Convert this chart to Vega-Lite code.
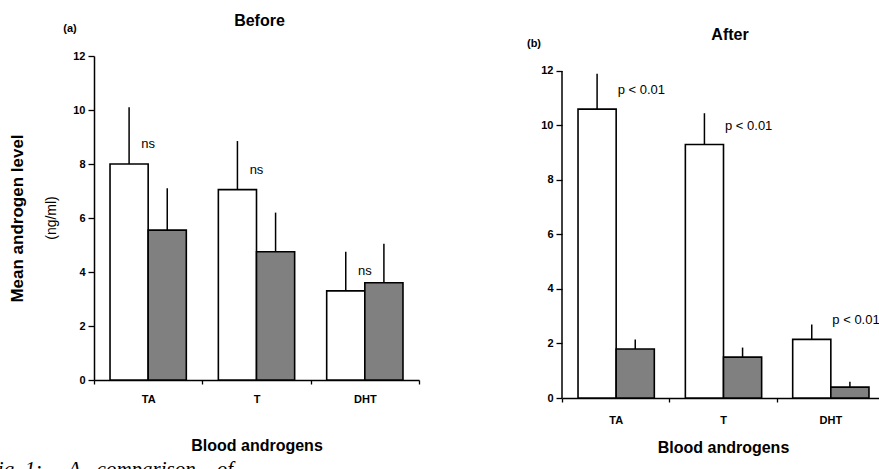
{
  "$schema": "https://vega.github.io/schema/vega-lite/v6.json",
  "background": "white",
  "padding": {"left": -15, "top": 13, "right": 0, "bottom": 0},
  "config": {
    "font": "Liberation Sans",
    "view": {"stroke": null},
    "axis": {
      "domainColor": "black", "tickColor": "black", "labelColor": "black", "titleColor": "black",
      "grid": false, "labelFont": "Liberation Sans", "titleFont": "Liberation Sans",
      "domainWidth": 1.5, "tickWidth": 1.3, "labelFontWeight": "bold", "labelFontSize": 11,
      "titleFontSize": 16, "titleFontWeight": "bold"
    },
    "title": {"font": "Liberation Sans", "fontSize": 16, "fontWeight": "bold", "color": "black"}
  },
  "datasets": {
    "bars": [
      {"panel": "a", "androgen": "TA", "series": "Open", "mean": 8.0, "upper": 10.1, "sig": "ns"},
      {"panel": "a", "androgen": "TA", "series": "Hatched", "mean": 5.55, "upper": 7.1, "sig": ""},
      {"panel": "a", "androgen": "T", "series": "Open", "mean": 7.05, "upper": 8.85, "sig": "ns"},
      {"panel": "a", "androgen": "T", "series": "Hatched", "mean": 4.75, "upper": 6.2, "sig": ""},
      {"panel": "a", "androgen": "DHT", "series": "Open", "mean": 3.3, "upper": 4.75, "sig": "ns"},
      {"panel": "a", "androgen": "DHT", "series": "Hatched", "mean": 3.6, "upper": 5.05, "sig": ""},
      {"panel": "b", "androgen": "TA", "series": "Open", "mean": 10.6, "upper": 11.9, "sig": "p < 0.01"},
      {"panel": "b", "androgen": "TA", "series": "Hatched", "mean": 1.8, "upper": 2.15, "sig": ""},
      {"panel": "b", "androgen": "T", "series": "Open", "mean": 9.3, "upper": 10.45, "sig": "p < 0.01"},
      {"panel": "b", "androgen": "T", "series": "Hatched", "mean": 1.5, "upper": 1.85, "sig": ""},
      {"panel": "b", "androgen": "DHT", "series": "Open", "mean": 2.15, "upper": 2.7, "sig": "p < 0.01"},
      {"panel": "b", "androgen": "DHT", "series": "Hatched", "mean": 0.4, "upper": 0.6, "sig": ""}
    ],
    "panels": [
      {"panel": "a", "tag": "(a)", "unit": "(ng/ml)", "caption": "Fig. 1:\u00a0\u00a0\u00a0\u00a0 A\u00a0\u00a0 comparison\u00a0\u00a0\u00a0 of"},
      {"panel": "b", "tag": "(b)", "unit": "", "caption": ""}
    ]
  },
  "spacing": 106,
  "hconcat": [
    {
      "width": 325,
      "height": 324,
      "title": {"text": "Before", "anchor": "middle", "dx": 3, "offset": -6},
      "layer": [
        {
          "data": {"name": "bars"},
          "transform": [{"filter": "datum.panel === 'a'"}],
          "mark": {"type": "bar", "stroke": "black", "strokeWidth": 1.6},
          "encoding": {
            "x": {"field": "androgen", "type": "nominal", "scale": {"domain": ["TA", "T", "DHT"], "paddingInner": 0, "paddingOuter": 0},
              "axis": {"title": "Blood androgens", "labelAngle": 0, "tickBand": "extent", "tickSize": 4, "labelPadding": 9, "titlePadding": 33}},
            "y": {"field": "mean", "type": "quantitative", "scale": {"domain": [0, 12], "nice": false},
              "axis": {"title": "Mean androgen level", "titleFontSize": 17, "values": [0,1,2,3,4,5,6,7,8,9,10,11,12],
                "labelExpr": "datum.value % 2 === 0 ? datum.label : ''",
                "tickSize": {"condition": {"test": "datum.value % 2 === 0", "value": 6}, "value": 3},
                "labelPadding": 3, "titlePadding": 46}},
            "xOffset": {"field": "series", "type": "nominal", "scale": {"domain": ["Open", "Hatched"], "paddingInner": 0, "paddingOuter": 0.42}},
            "fill": {"field": "series", "type": "nominal", "scale": {"domain": ["Open", "Hatched"], "range": ["white", "#808080"]}, "legend": null}
          }
        },
        {
          "data": {"name": "bars"},
          "transform": [{"filter": "datum.panel === 'a'"}],
          "mark": {"type": "rule", "stroke": "black", "strokeWidth": 1.5},
          "encoding": {
            "x": {"field": "androgen", "type": "nominal"},
            "xOffset": {"field": "series", "type": "nominal"},
            "y": {"field": "mean", "type": "quantitative"},
            "y2": {"field": "upper"}
          }
        },
        {
          "data": {"name": "bars"},
          "transform": [{"filter": "datum.panel === 'a' && datum.sig !== ''"}],
          "mark": {"type": "text", "fontSize": 13, "dy": -20, "align": "center", "baseline": "middle", "color": "black"},
          "encoding": {
            "x": {"field": "androgen", "type": "nominal"},
            "y": {"field": "mean", "type": "quantitative"},
            "text": {"field": "sig"}
          }
        },
        {
          "data": {"name": "panels"},
          "transform": [{"filter": "datum.panel === 'a'"}],
          "mark": {"type": "text", "fontSize": 11, "fontWeight": "bold", "dx": -24, "align": "center", "baseline": "middle", "color": "black"},
          "encoding": {
            "x": {"datum": "TA", "type": "nominal", "bandPosition": 0},
            "y": {"datum": 13, "type": "quantitative"},
            "text": {"field": "tag"}
          }
        },
        {
          "data": {"name": "panels"},
          "transform": [{"filter": "datum.panel === 'a'"}],
          "mark": {"type": "text", "fontSize": 14, "angle": 270, "dy": -42, "align": "center", "baseline": "middle", "color": "black"},
          "encoding": {
            "x": {"datum": "TA", "type": "nominal", "bandPosition": 0},
            "y": {"datum": 6, "type": "quantitative"},
            "text": {"field": "unit"}
          }
        },
        {
          "data": {"name": "panels"},
          "transform": [{"filter": "datum.panel === 'a'"}],
          "mark": {"type": "text", "font": "Liberation Serif", "fontStyle": "italic", "fontSize": 21, "dx": -109, "align": "left", "baseline": "alphabetic", "color": "black"},
          "encoding": {
            "x": {"datum": "TA", "type": "nominal", "bandPosition": 0},
            "y": {"datum": -3.55, "type": "quantitative"},
            "text": {"field": "caption"}
          }
        }
      ]
    },
    {
      "width": 322,
      "height": 342,
      "title": {"text": "After", "anchor": "middle", "dx": 7, "offset": -5},
      "layer": [
        {
          "data": {"name": "bars"},
          "transform": [{"filter": "datum.panel === 'b'"}],
          "mark": {"type": "bar", "stroke": "black", "strokeWidth": 1.6},
          "encoding": {
            "x": {"field": "androgen", "type": "nominal", "scale": {"domain": ["TA", "T", "DHT"], "paddingInner": 0, "paddingOuter": 0},
              "axis": {"title": "Blood androgens", "labelAngle": 0, "tickBand": "extent", "tickSize": 4, "labelPadding": 12, "titlePadding": 14}},
            "y": {"field": "mean", "type": "quantitative", "scale": {"domain": [0, 12.55], "nice": false},
              "axis": {"title": null, "domain": false, "values": [0,1,2,3,4,5,6,7,8,9,10,11,12],
                "labelExpr": "datum.value % 2 === 0 ? datum.label : ''",
                "tickSize": {"condition": {"test": "datum.value % 2 === 0", "value": 6}, "value": 3},
                "labelPadding": 3}},
            "xOffset": {"field": "series", "type": "nominal", "scale": {"domain": ["Open", "Hatched"], "paddingInner": 0, "paddingOuter": 0.42}},
            "fill": {"field": "series", "type": "nominal", "scale": {"domain": ["Open", "Hatched"], "range": ["white", "#808080"]}, "legend": null}
          }
        },
        {
          "data": {"name": "bars"},
          "transform": [{"filter": "datum.panel === 'b'"}],
          "mark": {"type": "rule", "stroke": "black", "strokeWidth": 1.5},
          "encoding": {
            "x": {"field": "androgen", "type": "nominal"},
            "xOffset": {"field": "series", "type": "nominal"},
            "y": {"field": "mean", "type": "quantitative"},
            "y2": {"field": "upper"}
          }
        },
        {
          "data": {"name": "bars"},
          "transform": [{"filter": "datum.panel === 'b' && datum.sig !== ''"}],
          "mark": {"type": "text", "fontSize": 13, "dy": -19, "dx": 2, "align": "left", "baseline": "middle", "color": "black"},
          "encoding": {
            "x": {"field": "androgen", "type": "nominal"},
            "y": {"field": "mean", "type": "quantitative"},
            "text": {"field": "sig"}
          }
        },
        {
          "data": {"name": "panels"},
          "transform": [{"filter": "datum.panel === 'b'"}],
          "mark": {"type": "text", "fontSize": 11, "fontWeight": "bold", "dx": -28, "align": "center", "baseline": "middle", "color": "black"},
          "encoding": {
            "x": {"datum": "TA", "type": "nominal", "bandPosition": 0},
            "y": {"datum": 13, "type": "quantitative"},
            "text": {"field": "tag"}
          }
        },
        {
          "data": {"name": "panels"},
          "transform": [{"filter": "datum.panel === 'b'"}],
          "mark": {"type": "rule", "stroke": "black", "strokeWidth": 1.5},
          "encoding": {
            "x": {"datum": "TA", "type": "nominal", "bandPosition": 0},
            "y": {"datum": 0, "type": "quantitative"},
            "y2": {"datum": 12}
          }
        }
      ]
    }
  ]
}
